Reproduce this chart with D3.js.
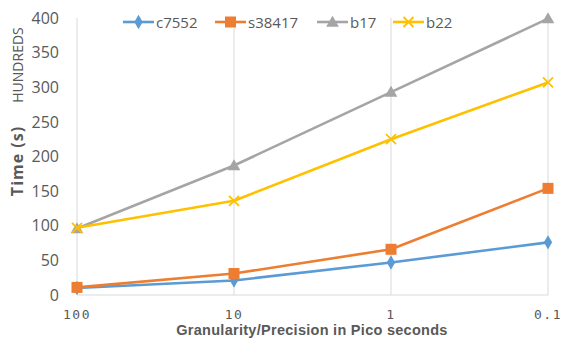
<!DOCTYPE html>
<html><head><meta charset="utf-8">
<script src="https://cdn.jsdelivr.net/npm/d3@7"></script>
<style>body{margin:0;background:#fff}svg{display:block}</style>
</head><body><svg id="c" width="561" height="338"></svg>
<script>
const categories = ["100", "10", "1", "0.1"];
const c7552 = [10, 21, 47, 76];
const s38417 = [11, 31, 66, 154];
const b17 = [96, 187, 293, 399];
const b22 = [97, 136, 225, 307];
const yTicks = [0, 50, 100, 150, 200, 250, 300, 350, 400];
const seriesNames = ["c7552", "s38417", "b17", "b22"];
const seriesData = [c7552, s38417, b17, b22];
const colors = ["#5B9BD5", "#ED7D31", "#A5A5A5", "#FFC000"];
const markers = ["diamond", "square", "triangle", "x"];

const svg = d3.select("#c");
const font = "'Open Sans', 'Liberation Sans', sans-serif";
const x = d3.scalePoint().domain(categories).range([77, 548]);
const y = d3.scaleLinear().domain([0, 400]).range([295, 18]);

// vertical gridlines
svg.append("g").selectAll("line").data(categories).join("line")
  .attr("x1", d => x(d)).attr("x2", d => x(d)).attr("y1", y(400)).attr("y2", y(0))
  .attr("stroke", "#D9D9D9").attr("stroke-width", 1);
// baseline
svg.append("line").attr("x1", x("100")).attr("x2", x("0.1")).attr("y1", y(0)).attr("y2", y(0))
  .attr("stroke", "#D9D9D9");

// y axis
const ya = svg.append("g").attr("transform", "translate(59,0)")
  .call(d3.axisLeft(y).tickValues(yTicks).tickSize(0).tickPadding(0));
ya.select(".domain").remove();
ya.selectAll("text").attr("font-family", font).attr("font-size", 16).attr("fill", "#595959");

// x axis
const xa = svg.append("g")
  .call(d3.axisBottom(x).tickSize(0).tickPadding(0));
xa.select(".domain").remove();
xa.selectAll("text").attr("font-family", "'DejaVu Sans Mono', monospace").attr("font-size", 13)
  .attr("letter-spacing", "1.5px").attr("fill", "#595959")
  .attr("y", 318.5).attr("dy", null).attr("dx", -0.5);

// axis titles
svg.append("text").attr("x", 312).attr("y", 334.8).attr("text-anchor", "middle")
  .attr("font-family", "'Liberation Sans', sans-serif").attr("font-size", 14.5).attr("font-weight", "bold").attr("fill", "#595959")
  .attr("letter-spacing", "0.28px")
  .text("Granularity/Precision in Pico seconds");
svg.append("text").attr("transform", "translate(23,161) rotate(-90)").attr("text-anchor", "middle")
  .attr("font-family", font).attr("font-size", 16).attr("font-weight", "bold").attr("fill", "#595959")
  .attr("letter-spacing", "1px")
  .text("Time (s)");
svg.append("text").attr("transform", "translate(23,65) rotate(-90)").attr("text-anchor", "middle")
  .attr("font-family", font).attr("font-size", 14).attr("fill", "#595959")
  .text("HUNDREDS");

function drawMarker(g, type, color, cx, cy) {
  if (type === "diamond") {
    g.append("path").attr("d", d3.symbol(d3.symbolDiamond, 60)()).attr("transform", `translate(${cx},${cy})`).attr("fill", color);
  } else if (type === "square") {
    g.append("rect").attr("x", cx - 5.5).attr("y", cy - 5.5).attr("width", 11).attr("height", 11).attr("fill", color);
  } else if (type === "triangle") {
    g.append("path").attr("d", d3.symbol(d3.symbolTriangle, 70)()).attr("transform", `translate(${cx},${cy+1})`).attr("fill", color);
  } else {
    g.append("path").attr("d", `M${cx-5},${cy-5}L${cx+5},${cy+5}M${cx-5},${cy+5}L${cx+5},${cy-5}`)
      .attr("stroke", color).attr("stroke-width", 1.8);
  }
}

const line = d3.line().x((d, i) => x(categories[i])).y(d => y(d));
seriesData.forEach((data, si) => {
  const g = svg.append("g");
  g.append("path").attr("d", line(data)).attr("fill", "none")
    .attr("stroke", colors[si]).attr("stroke-width", 2.6).attr("stroke-linejoin", "round");
  data.forEach((v, i) => drawMarker(g, markers[si], colors[si], x(categories[i]), y(v)));
});

// legend
const legX = [123, 215, 317, 393];
const lg = svg.append("g");
seriesNames.forEach((n, i) => {
  const lx = legX[i], ly = 22;
  lg.append("line").attr("x1", lx).attr("x2", lx + 31).attr("y1", ly).attr("y2", ly)
    .attr("stroke", colors[i]).attr("stroke-width", 2.6);
  drawMarker(lg, markers[i], colors[i], lx + 15.5, ly);
  lg.append("text").attr("x", lx + 33).attr("y", ly + 5.5).attr("font-family", font).attr("font-size", 15)
    .attr("fill", "#595959").text(n);
});
</script></body></html>
